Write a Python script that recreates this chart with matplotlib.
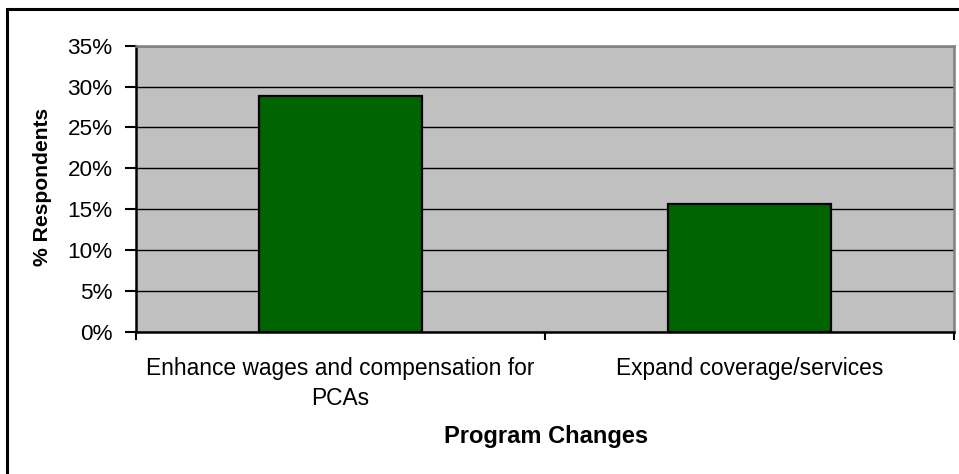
import matplotlib
matplotlib.use("Agg")
import matplotlib.pyplot as plt
from matplotlib.patches import Rectangle
from matplotlib.ticker import FuncFormatter, FixedLocator

plt.rcParams['font.family'] = ['Liberation Sans', 'DejaVu Sans']

categories = ["Enhance wages and compensation for\nPCAs", "Expand coverage/services"]
values = [28.9, 15.6]
yticks = [0, 5, 10, 15, 20, 25, 30, 35]

W, H = 959, 474
fig = plt.figure(figsize=(W / 100, H / 100), dpi=100)
fig.patch.set_facecolor('white')

# outer chart border (right/bottom cut off in reference)
fig.add_artist(Rectangle((7 / W, -0.1), 1.2, 1 - 9 / H + 0.1, transform=fig.transFigure,
                         fill=False, edgecolor='black', linewidth=2.2, clip_on=False))

l, r, t, b = 136, 954, 45.7, 331.7
ax = fig.add_axes([l / W, (H - b) / H, (r - l) / W, (b - t) / H])
ax.set_facecolor('#C0C0C0')

x = list(range(len(categories)))
ax.bar(x, values, width=0.4, color='#006400', edgecolor='black', linewidth=1.6, zorder=3)

ax.set_xlim(-0.5, len(categories) - 0.5)
ax.set_ylim(0, 35)
ax.set_yticks(yticks)
ax.yaxis.set_major_formatter(FuncFormatter(lambda v, p: f"{int(v)}%"))
ax.grid(axis='y', color='black', linewidth=1.0, zorder=1)
ax.set_axisbelow(True)

ax.set_xticks(x)
ax.set_xticklabels(categories, fontsize=16.4, linespacing=1.4)
ax.xaxis.set_minor_locator(FixedLocator([i - 0.5 for i in range(len(categories) + 1)]))
ax.tick_params(axis='x', which='major', length=0, pad=18)
ax.tick_params(axis='x', which='minor', length=6, width=1.5, color='black')
ax.tick_params(axis='y', which='major', length=8, width=1.5, labelsize=16.2, pad=9)

for s in ['left', 'bottom']:
    ax.spines[s].set_color('black')
    ax.spines[s].set_linewidth(1.8)
for s in ['top', 'right']:
    ax.spines[s].set_color('#808080')
    ax.spines[s].set_linewidth(1.8)

fig.text(43 / W, 1 - 187 / H, "% Respondents", rotation=90, ha='center', va='center',
         fontsize=15.2, fontweight='bold')
fig.text(546 / W, 1 - 437 / H, "Program Changes", ha='center', va='center',
         fontsize=17, fontweight='bold')

fig.savefig("out.png", dpi=100)
